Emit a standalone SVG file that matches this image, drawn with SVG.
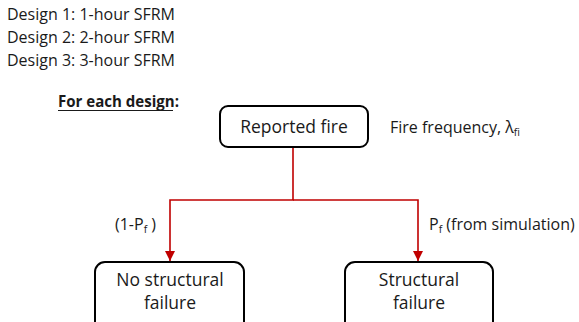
<svg xmlns="http://www.w3.org/2000/svg" width="579" height="322" viewBox="0 0 579 322">
<defs>
<marker id="arr" viewBox="0 0 10 10" refX="10" refY="5" markerWidth="10" markerHeight="10" markerUnits="userSpaceOnUse" orient="auto">
<path d="M0,0 L10,5 L0,10 Z" fill="#c00000"/>
</marker>
</defs>
<style>
text{font-family:"Open Sans","Liberation Sans",sans-serif;font-size:16px;fill:#1a1a1a}
.box{fill:#fff;stroke:#000;stroke-width:2}
.c{text-anchor:middle;font-size:17.5px}
.sub{font-size:10.5px}
.link{fill:none;stroke:#c00000;stroke-width:1.6}
</style>
<rect width="579" height="322" fill="#fff"/>
<g id="designs">
<text x="7" y="20">Design 1: 1-hour SFRM</text>
<text x="7" y="43">Design 2: 2-hour SFRM</text>
<text x="7" y="66">Design 3: 3-hour SFRM</text>
</g>
<g id="heading">
<text x="58" y="107" textLength="121" lengthAdjust="spacingAndGlyphs" style="font-weight:bold">For each design:</text>
<line x1="58" y1="110.5" x2="173" y2="110.5" stroke="#1a1a1a" stroke-width="1.2"/>
</g>
<g id="connectors">
<path class="link" d="M293,147 V200 H170 V261" marker-end="url(#arr)"/>
<path class="link" d="M293,200 H418 V261" marker-end="url(#arr)"/>
</g>
<g id="reported-fire">
<rect class="box" x="220" y="106" width="148" height="41" rx="8"/>
<text class="c" x="294" y="133">Reported fire</text>
</g>
<text x="390" y="133">Fire frequency, λ<tspan class="sub" dy="3">fi</tspan></text>
<text x="115" y="230">(1-P<tspan class="sub" dy="3">f</tspan><tspan dy="-3"> )</tspan></text>
<text x="429" y="230">P<tspan class="sub" dy="3">f</tspan><tspan dy="-3">  (from simulation)</tspan></text>
<g id="no-structural-failure">
<rect class="box" x="95" y="262" width="149" height="70" rx="10"/>
<text class="c" x="170" y="286">No structural</text>
<text class="c" x="170" y="309">failure</text>
</g>
<g id="structural-failure">
<rect class="box" x="345" y="262" width="148" height="70" rx="10"/>
<text class="c" x="419" y="286">Structural</text>
<text class="c" x="419" y="309">failure</text>
</g>
</svg>
